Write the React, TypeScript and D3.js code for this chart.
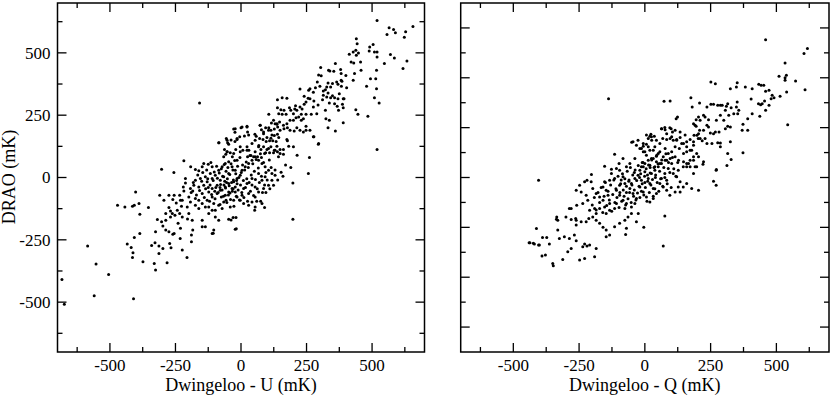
import React from "react";
import * as d3 from "d3";

// Dwingeloo U vs DRAO (mK)
const uPoints: [number, number][] = [
  [519,630],[565,601],[582,594],[589,581],[557,574],[656,606],[628,585],[623,563],[633,467],[618,437],
  [570,493],[585,479],[547,457],[519,503],[519,483],[517,430],[514,396],[509,320],[527,299],[517,356],
  [494,396],[479,366],[491,523],[489,507],[504,534],[509,503],
  [440,557],[443,537],[438,510],[448,499],[440,490],[456,463],[428,503],[413,494],[420,463],[430,459],
  [458,430],[433,417],[428,390],[438,272],[446,254],[484,246],[519,112],
  [400,409],[385,386],[383,366],[403,360],[393,316],[360,457],[354,426],[339,427],[334,430],[304,441],
  [380,433],[382,417],[382,390],[365,383],[370,374],[349,377],[342,363],[327,363],[314,347],
  [332,379],[322,352],[332,339],[349,328],[357,320],[342,320],[327,323],[314,330],
  [296,411],[306,408],[291,383],[301,366],[284,360],[311,312],[337,299],
  [357,296],[367,286],[372,270],[387,294],[390,280],[375,336],[370,316],[390,316],
  [322,270],[324,236],[337,230],[332,200],[360,187],[390,220],
  [294,291],[276,283],[289,256],[268,254],[263,316],[258,350],[263,356],[276,342],[278,307],[248,303],
  [241,294],[233,275],[225,283],[230,254],[248,254],
  [225,355],[241,326],[256,318],[213,270],[200,256],[220,243],[238,236],[230,230],[248,206],[225,190],
  [263,190],[278,163],[296,136],
  [139,312],[157,320],[175,318],[139,280],[152,272],[164,270],[144,256],[157,254],[172,254],[185,280],
  [190,270],[205,275],[208,288],[210,240],[200,230],[187,230],[175,216],[162,210],[147,223],[137,216],
  [124,230],[116,219],[106,254],
  [213,200],[248,190],[238,183],[203,187],[187,190],[177,200],[164,196],[149,190],[137,214],[127,195],
  [114,190],[106,200],[86,183],[94,200],[99,160],[73,210],[78,192],[53,173],[58,165],[71,156],
  [84,152],[96,144],[109,147],[121,147],[134,144],[144,160],[139,173],[127,168],[114,157],[175,152],
  [177,147],[182,125],[162,112],[149,112],[137,125],[127,109],[114,123],[99,112],[86,123],[68,128],
  [76,112],[94,99],[109,99],[124,99],[139,103],[149,96],[162,93],
  [-28,195],[-23,182],[0,200],[23,203],[25,183],[13,166],[-5,163],[-15,152],[-23,144],[-38,150],
  [-56,156],[-51,139],[-84,139],[-63,112],[-53,103],[-58,93],[-41,99],[-33,83],[-20,112],[-3,123],
  [7,109],[23,123],[30,109],[38,88],[25,83],[48,83],[63,83],[78,80],
  [198,-22],[198,-167],[257,16],[261,80],[295,133],[276,163],[214,89],[190,40],[200,123],[-158,299],
  [153,21],[160,5],[124,-31],[140,-10],[110,-45],[95,-60],[130,30],[170,50],
  [-683,-409],[-674,-508],[-560,-474],[-410,-486],[-585,-275],[-553,-347],[-505,-389],[-471,-111],
  [-443,-118],[-414,-115],[-407,-111],[-389,-104],[-402,-58],[-353,-120],[-386,-147],[-303,33],
  [-256,20],[-218,67],
  [-407,-241],[-386,-225],[-434,-267],[-419,-281],[-412,-302],[-414,-321],[-374,-338],[-331,-345],
  [-326,-371],[-341,-273],[-328,-262],[-313,-275],[-313,-305],[-298,-285],[-282,-342],[-272,-265],
  [-267,-282],[-260,-228],[-326,-218],[-319,-168],[-303,-178],[-298,-195],[-287,-211],[-275,-218],
  [-255,-225],[-232,-245],[-224,-291],[-206,-321],[-189,-231],[-189,-258],[-184,-211],[-231,-204],
  [-240,-184],[-269,-158],[-287,-144],
  [-310,-71],[-294,-91],[-275,-71],[-260,-88],[-255,-71],[-275,-120],[-269,-134],[-252,-151],
  [-234,-144],[-224,-158],[-204,-166],[-186,-171],[-199,-144],[-227,-115],[-247,-102],[-231,-91],
  [-234,-71],[-218,-54],[-220,-38],[-212,-22],[-193,-44],[-184,-54],[-174,-84],[-161,-91],
  [-148,-104],[-136,-118],[-123,-144],[-110,-131],[-98,-158],[-148,-171],[-136,-198],[-110,-225],
  [-104,-211],[-85,-171],[-47,-167],[-19,-160],[-18,-206],[-41,-118],[-72,-124],[-66,-98],
  [-57,-91],[-75,-78],
  [-212,-4],[-192,43],[-174,32],[-161,27],[-148,43],[-142,56],[-125,53],[-110,43],[-117,16],[-136,3],
  [-155,-4],[-174,-11],[-180,-31],[-161,-38],[-142,-31],[-129,-17],[-110,-4],[-98,9],[-85,29],[-72,43],
  [-60,56],[-47,63],[-34,43],[-22,29],[-47,16],[-66,3],[-79,-11],[-91,-31],[-110,-44],[-123,-58],
  [-110,-78],[-91,-64],[-79,-51],[-60,-38],[-47,-24],[-28,-17],[-15,-4],[-3,9],[4,29],[16,43],
  [29,56],[42,69],[54,83],[67,69],[80,56],[92,43],[105,29],[118,16],[130,9],[118,-11],
  [105,-31],[86,-44],[67,-58],[54,-78],[42,-98],[29,-111],[10,-104],[-3,-91],[-15,-78],[-22,-58],
  [-34,-44],[-47,-58],[-60,-71],[-28,-91],
  [-85,139],[-53,149],[-47,133],[-22,196],[-15,156],[4,203],[23,206],[29,170],[42,136],[54,149],
  [73,210],[86,176],[105,190],[118,170],[130,216],[140,203],[90,96],[67,123],[23,109],[-3,103],
  [-28,96],[-53,103],[-66,83],[-15,69],[54,103],[105,116],[130,109],[143,83],
  [-148,-64],[-129,-91],[-104,-104],[-85,-111],[-98,-131],[-123,-118],[-161,-124],[-174,-111],
  [-193,-98],[-205,-118],[-199,-78],[-224,-91],[-243,-131],[-262,-144],[-287,-171],[-148,-198],
  [54,-38],[80,-11],[92,3],[67,16],[42,-4],[23,-24],[10,-44],[29,-64],[4,-71],[80,-104],
  [90,-120],[54,-118],[52,-131],[60,-95],[75,-95],[-22,-208],[-30,-160],[-38,-170],[-106,-224],
  // dense core
  [-190,-60],[-182,-20],[-170,-70],[-165,10],[-158,-52],[-150,-15],[-146,20],[-140,-80],[-135,-45],
  [-131,30],[-127,-5],[-120,-95],[-118,-30],[-115,60],[-112,-68],[-106,-12],[-102,22],[-99,-85],
  [-96,-40],[-93,45],[-90,-3],[-87,-60],[-83,18],[-80,-108],[-78,-28],[-75,35],[-72,-50],[-70,5],
  [-67,-75],[-64,52],[-62,-15],[-59,-42],[-57,25],[-54,-100],[-52,-5],[-50,40],[-48,-70],[-45,-33],
  [-43,12],[-40,-88],[-38,55],[-36,-20],[-33,-55],[-31,30],[-29,-10],[-27,-115],[-24,68],[-22,-38],
  [-20,15],[-18,-75],[-15,-25],[-13,45],[-11,-50],[-8,0],[-6,-90],[-4,80],[-2,-30],[1,20],
  [3,-60],[6,50],[9,-12],[11,-80],[14,30],[17,-40],[20,62],[22,-5],[25,-95],[28,40],
  [31,-20],[34,88],[36,-55],[39,10],[42,-30],[45,55],[48,-72],[51,25],[55,-8],[58,72],
  [62,-45],[66,38],[70,-20],[74,95],[78,5],[82,-60],[86,60],[90,-30],[95,20],[100,-10],
  [108,70],[115,40],[-125,-40],[-100,-55],[-80,-40],[-65,-30],[-55,-20],[-42,-62],[-30,-45],[-17,-12]
];

// Dwingeloo Q vs DRAO (mK)
const qPoints: [number, number][] = [
  [459,553],[605,497],[618,517],[533,459],[510,406],[533,400],[533,390],[538,410],[573,387],[609,352],
  [539,343],[514,326],[484,330],[480,316],[491,320],[472,350],[452,370],[433,374],[442,370],[459,346],
  [455,307],[446,296],[440,292],[432,296],[472,290],[459,270],[543,212],
  [404,315],[408,356],[382,363],[351,380],[348,363],[325,356],[351,303],[348,283],[357,270],[353,256],
  [338,256],[328,280],[319,250],[306,270],[287,290],[287,250],[300,230],[315,206],[325,203],[306,196],
  [268,183],[282,183],[272,230],[277,290],[294,290],[310,286],[315,296],[251,383],[268,376],[251,294],
  [261,294],[236,283],[229,243],[242,232],[208,299],[175,320],[180,283],[223,250],[204,243],[195,232],
  [185,216],[195,206],[210,230],[236,210],[242,203],[249,179],[261,176],[223,190],[208,190],[198,169],
  [187,169],[203,156],[218,147],[229,156],[236,136],[255,136],[277,139],[287,123],[325,143],[370,190],
  [391,190],[373,214],[391,236],[437,246],[408,256],[373,99],[315,96],[328,72],[312,48],[272,32],
  [73,306],[96,307],[119,236],[124,243],[64,196],[77,192],[100,196],[105,183],
  [19,165],[36,165],[13,156],[26,149],[6,133],[-6,125],[-13,116],[0,103],[19,109],[38,123],
  [57,136],[68,156],[83,152],[96,156],[108,149],[121,152],[134,160],[147,136],[159,143],[172,152],
  [185,129],[172,109],[159,103],[147,96],[131,116],[115,123],[102,103],[89,96],[77,116],[57,103],
  [45,89],[32,76],[13,69],[0,56],[-13,43],[19,49],[38,43],[57,56],[77,69],[96,76],
  [115,83],[128,69],[147,63],[166,56],[185,69],[204,83],[223,63],[221,53],[191,43],[172,43],[159,43],
  [-404,-11],[-115,93],[70,-275],[76,-154],[-4,-200],[-73,-229],
  [-440,-262],[-420,-267],[-404,-271],[-389,-241],[-373,-241],[-363,-267],[-412,-205],
  [-391,-315],[-378,-311],[-350,-345],[-348,-354],[-312,-329],[-293,-298],[-280,-285],[-248,-331],
  [-229,-325],[-191,-318],[-185,-285],[-210,-271],[-229,-267],[-236,-278],[-220,-275],[-261,-254],
  [-268,-231],[-287,-245],[-306,-238],[-325,-245],[-331,-211],[-331,-171],[-335,-158],[-300,-158],
  [-280,-168],[-261,-171],[-242,-178],[-223,-178],[-213,-164],[-198,-158],[-185,-171],[-172,-184],
  [-159,-200],[-147,-211],[-147,-238],[-134,-231],[-115,-198],[-96,-184],[-76,-171],[-70,-204],
  [-32,-178],[-25,-144],[-51,-144],[-64,-158],
  [-280,-124],[-259,-111],[-236,-104],[-217,-91],[-223,-71],[-242,-58],[-261,-51],[-248,-31],
  [-229,-17],[-220,-11],[-204,-17],[-198,-44],[-185,-64],[-172,-78],[-159,-91],[-153,-118],
  [-172,-124],[-191,-124],[-210,-131],[-185,-144],[-147,-144],[-134,-131],[-115,-124],[-108,-104],
  [-134,-104],[-140,-71],[-147,-51],[-159,-38],[-153,-17],[-134,-11],[-115,-4],[-127,16],
  [-108,36],[-96,29],[-83,3],[-76,-24],[-96,-31],[-108,-51],[-96,-71],[-83,-91],
  [-70,-104],[-76,-124],[-51,-118],[-38,-104],[-32,-84],[-45,-64],[-57,-44],[-51,-24],
  [-38,-4],[-26,9],[-19,29],[-6,43],[0,23],[-13,-11],[-19,-38],[-6,-58],
  [6,-78],[19,-98],[32,-84],[44,-64],[32,-44],[19,-24],[13,-4],[25,16],
  [38,29],[51,43],[63,56],[44,63],[25,76],[6,89],[-6,103],[-19,116],
  [-32,129],[-45,143],[-26,149],[-6,136],[13,123],[32,109],[51,96],[70,83],
  [83,69],[102,56],[89,36],[76,16],[63,-4],[57,-24],[70,-38],[83,-51],
  [95,-71],[115,-58],[127,-38],[134,-17],[121,3],[108,16],[127,29],[146,43],
  [159,56],[172,69],[185,83],[197,96],[178,109],[159,123],[140,136],[121,149],
  [102,163],[83,176],[63,196],[95,200],[115,190],[134,183],[153,170],[191,210],
  [204,176],[210,156],[185,143],[197,43],[185,16],[178,-44],[204,-51],[159,-24],
  [146,-38],[134,-58],[83,-11],[44,149],[25,163],[6,170],[-38,76],[-57,56],
  [-70,43],[-83,76],[-98,56],
  [-138,316],[-203,12],[-153,45],[-127,33],[-50,141],[23,173],[76,201],[261,-15],[271,-31],[271,29],
  [287,138],[-437,-262],[-424,-264],[-401,-271],[-287,-124],[-336,-167],[-263,-164],[-261,-191],
  [-60,-10],[-40,20],[-20,0],[0,-20],[10,10],[-70,-60],[-90,-10],[40,0],[-10,60],[20,40],
  // dense core
  [-200,-110],[-192,-80],[-185,-130],[-178,-60],[-172,-100],[-166,-40],[-160,-140],[-155,-75],
  [-150,-20],[-145,-112],[-140,-55],[-135,-90],[-130,-30],[-126,-135],[-122,-68],[-118,-10],
  [-114,-100],[-110,-45],[-106,-80],[-102,5],[-98,-120],[-95,-60],[-92,-25],[-88,-95],
  [-85,15],[-82,-50],[-79,-75],[-76,-5],[-73,-110],[-70,-35],[-67,25],[-64,-85],
  [-61,-15],[-58,-60],[-55,40],[-52,-100],[-49,-30],[-46,10],[-43,-75],[-40,-50],
  [-37,30],[-34,-90],[-31,-12],[-28,-62],[-25,48],[-22,-35],[-19,-80],[-16,15],
  [-13,-55],[-10,-25],[-7,60],[-4,-70],[-1,5],[2,-40],[5,35],[8,-95],
  [11,-15],[14,50],[17,-60],[20,18],[23,-30],[26,70],[29,-8],[32,-75],
  [35,40],[38,-45],[41,10],[44,85],[47,-20],[50,55],[53,-55],[56,25],
  [60,-5],[64,70],[68,-35],[72,40],[76,0],[80,95],[85,-25],[90,60],
  [95,20],[100,-40],[105,80],[110,35],[118,5],[125,60]
];

const majorTicks = [-500, -250, 0, 250, 500];
const minorTicks = [-625, -375, -125, 125, 375, 625];
const qMajorY = [-600, -400, -200, 0, 200, 400, 600];
const qMinorY = [-500, -300, -100, 100, 300, 500];
const domain: [number, number] = [-700, 700];

const W = 830;
const H = 397;
const TOP = 3;
const BOTTOM = 352;
const FONT = "Liberation Serif";

type PanelProps = {
  pts: [number, number][];
  x0: number;
  x1: number;
  yMaj: number[];
  yMin: number[];
  yLabels: boolean;
  title: string;
};

function Panel({ pts, x0, x1, yMaj, yMin, yLabels, title }: PanelProps) {
  const x = d3.scaleLinear().domain(domain).range([x0, x1]);
  const y = d3.scaleLinear().domain(domain).range([BOTTOM, TOP]);
  const tick = { stroke: "#000", strokeWidth: 1.3 };

  return (
    <g>
      {/* x ticks, bottom and top, pointing inward */}
      {majorTicks.map(v => (
        <g key={"xM" + v}>
          <line x1={x(v)} x2={x(v)} y1={BOTTOM} y2={BOTTOM - 9} {...tick} />
          <line x1={x(v)} x2={x(v)} y1={TOP} y2={TOP + 9} {...tick} />
          <text x={x(v)} y={BOTTOM + 19} textAnchor="middle" fontFamily={FONT} fontSize={17}>
            {String(v)}
          </text>
        </g>
      ))}
      {minorTicks.map(v => (
        <g key={"xm" + v}>
          <line x1={x(v)} x2={x(v)} y1={BOTTOM} y2={BOTTOM - 5} {...tick} />
          <line x1={x(v)} x2={x(v)} y1={TOP} y2={TOP + 5} {...tick} />
        </g>
      ))}

      {/* y ticks, left and right */}
      {yMaj.map(v => (
        <g key={"yM" + v}>
          <line x1={x0} x2={x0 + 9} y1={y(v)} y2={y(v)} {...tick} />
          <line x1={x1} x2={x1 - 9} y1={y(v)} y2={y(v)} {...tick} />
          {yLabels && (
            <text x={x0 - 7} y={y(v)} dy="0.34em" textAnchor="end" fontFamily={FONT} fontSize={17}>
              {String(v)}
            </text>
          )}
        </g>
      ))}
      {yMin.map(v => (
        <g key={"ym" + v}>
          <line x1={x0} x2={x0 + 5} y1={y(v)} y2={y(v)} {...tick} />
          <line x1={x1} x2={x1 - 5} y1={y(v)} y2={y(v)} {...tick} />
        </g>
      ))}

      <rect x={x0} y={TOP} width={x1 - x0} height={BOTTOM - TOP} fill="none" stroke="#000" strokeWidth={1.5} />

      <g>
        {pts.map((d, i) => (
          <circle key={i} cx={x(d[0])} cy={y(d[1])} r={1.5} fill="#000" />
        ))}
      </g>

      <text x={(x0 + x1) / 2} y={391} textAnchor="middle" fontFamily={FONT} fontSize={18}>
        {title}
      </text>
    </g>
  );
}

export default function App() {
  return (
    <svg width={W} height={H} style={{ position: "absolute", left: 0, top: 0, background: "#fff" }}>
      <Panel pts={uPoints} x0={57.5} x1={424.5} yMaj={majorTicks} yMin={minorTicks} yLabels={true} title="Dwingeloo - U (mK)" />
      <Panel pts={qPoints} x0={460.7} x1={829} yMaj={qMajorY} yMin={qMinorY} yLabels={false} title="Dwingeloo - Q (mK)" />
      <text transform="translate(15,177) rotate(-90)" textAnchor="middle" fontFamily={FONT} fontSize={18}>
        DRAO (mK)
      </text>
    </svg>
  );
}
